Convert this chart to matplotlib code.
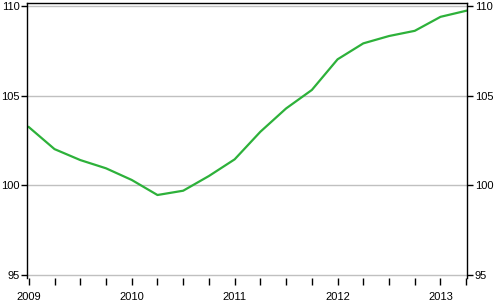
import matplotlib.pyplot as plt
import numpy as np

# quarterly index values, 2009Q1 .. 2013Q2
quarters = np.arange(18)
values = [103.25, 102.02, 101.41, 100.95, 100.30, 99.46, 99.70, 100.52, 101.45,
          102.99, 104.29, 105.32, 107.03, 107.92, 108.33, 108.62, 109.40, 109.74]
years = ["2009", "2010", "2011", "2012", "2013"]
year_pos = [0, 4, 8, 12, 16]
yticks = [95, 100, 105, 110]

plt.rcParams['font.family'] = ['Liberation Sans', 'DejaVu Sans']

fig = plt.figure(figsize=(4.94, 3.04), dpi=100)
ax = fig.add_axes([27 / 494, 1 - 278 / 304, 440 / 494, 275.5 / 304])

ax.plot(quarters, values, color='#2db13a', linewidth=1.6, solid_joinstyle='round')

ax.set_xlim(-0.07, 17.03)
ax.set_ylim(94.83, 110.2)

ax.set_yticks(yticks)
ax.set_yticklabels([str(t) for t in yticks])
ax.yaxis.grid(True, color='#c0c0c0', linewidth=1)
ax.set_axisbelow(True)

ax.set_xticks(year_pos)
ax.set_xticklabels(years)
ax.set_xticks(quarters, minor=True)

ax.spines['bottom'].set_visible(False)
for s in ['left', 'right', 'top']:
    ax.spines[s].set_color('black')
    ax.spines[s].set_linewidth(1)

ax.tick_params(axis='x', which='both', direction='out', length=5, width=1,
               labelsize=8, pad=5)
ax.tick_params(axis='y', direction='out', length=4, width=1, labelsize=8,
               right=True, labelright=True, pad=1.5)

plt.savefig("out.png", dpi=100)
